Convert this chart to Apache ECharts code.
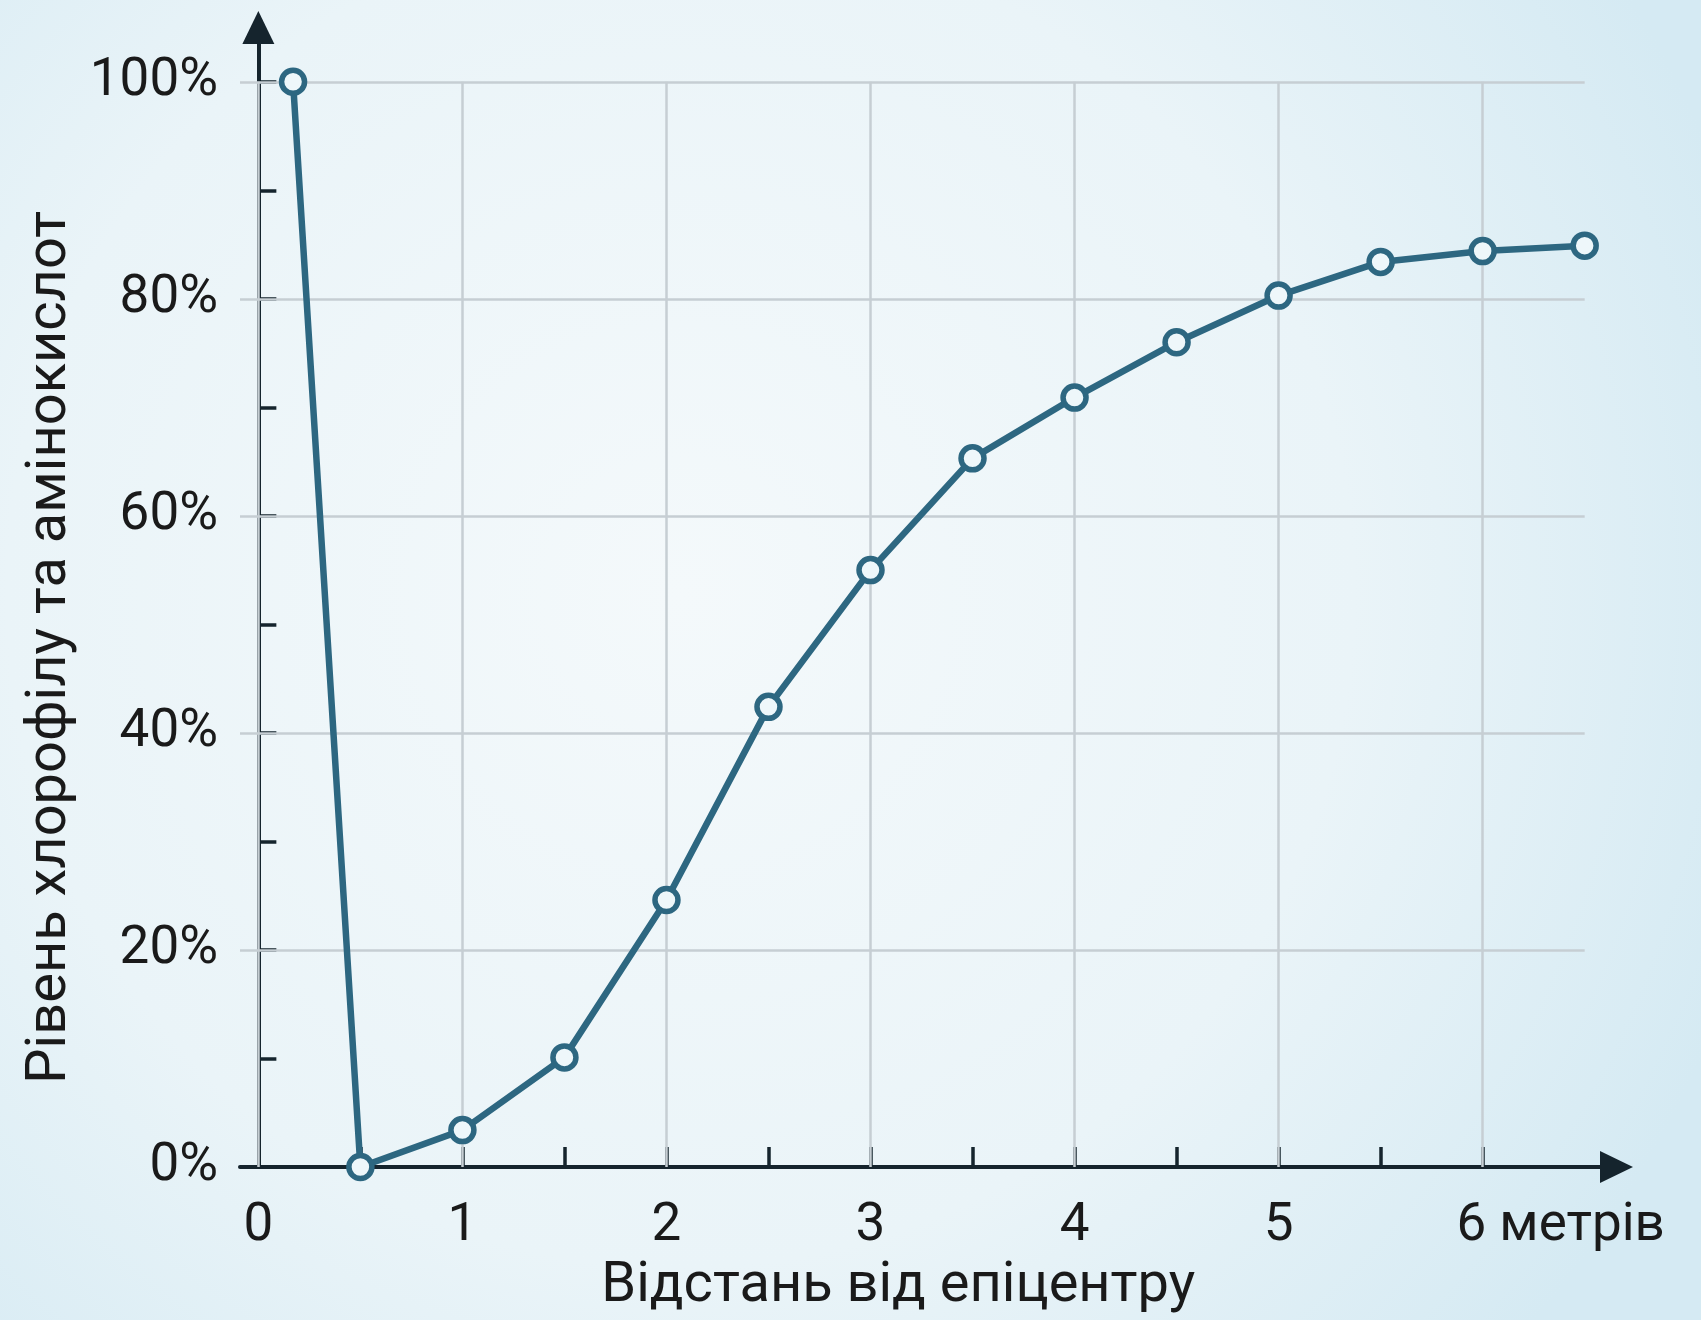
<!DOCTYPE html>
<html>
<head>
<meta charset="utf-8">
<script src="https://cdn.jsdelivr.net/npm/echarts@6/dist/echarts.min.js"></script>
<style>
html,body{margin:0;padding:0;}
#chart{width:1701px;height:1320px;}
</style>
</head>
<body>
<div id="chart"></div>
<script>
// Data
const distances = [0.17, 0.5, 1, 1.5, 2, 2.5, 3, 3.5, 4, 4.5, 5, 5.5, 6, 6.5];
const levels = [100, 0, 3.4, 10.1, 24.6, 42.4, 55.0, 65.3, 70.9, 76.0, 80.3, 83.4, 84.4, 84.9];
const xTickValues = [0, 0.5, 1, 1.5, 2, 2.5, 3, 3.5, 4, 4.5, 5, 5.5, 6];
const xLabelValues = [0, 1, 2, 3, 4, 5, 6];
const xLabelTexts = ['0', '1', '2', '3', '4', '5', '6 метрів'];
const yTickValues = [0, 10, 20, 30, 40, 50, 60, 70, 80, 90, 100];
const yLabelValues = [0, 20, 40, 60, 80, 100];
const xGridValues = [0, 1, 2, 3, 4, 5, 6];
const yGridValues = [20, 40, 60, 80, 100];
const xName = 'Відстань від епіцентру';
const yName = 'Рівень хлорофілу та амінокислот';

const X_MIN = -0.09, X_MAX = 6.656, GRID_X_END = 6.5;
const Y_MIN = 0, Y_MAX = 105, GRID_Y_END = 100;

const axisColor = '#15242d';
const gridColor = '#c6ced3';
const lineColor = '#2d6781';
const textColor = '#1a1a1a';
const font = 'Roboto, "Noto Sans", sans-serif';

const gridLines = [];
yGridValues.forEach(v => gridLines.push([{coord: [X_MIN, v]}, {coord: [GRID_X_END, v]}]));
xGridValues.forEach(v => gridLines.push([{coord: [v, Y_MIN]}, {coord: [v, GRID_Y_END]}]));

const chart = echarts.init(document.getElementById('chart'), null, {renderer: 'canvas'});
chart.setOption({
  backgroundColor: {
    type: 'radial', x: 0.4, y: 0.45, r: 0.85,
    colorStops: [{offset: 0, color: '#f4f9fb'}, {offset: 0.6, color: '#eaf4f8'}, {offset: 1, color: '#d5eaf3'}]
  },
  animation: false,
  grid: {left: 240, right: 84.5, top: 27.5, bottom: 153, containLabel: false},
  xAxis: {
    type: 'value', min: X_MIN, max: X_MAX,
    name: xName, nameLocation: 'middle', nameGap: 92,
    nameTextStyle: {fontFamily: font, fontSize: 56, color: textColor, padding: [0, 60, 0, 0]},
    axisLine: {show: true, symbol: ['none', 'triangle'], symbolSize: [32, 33], lineStyle: {color: axisColor, width: 4}},
    axisTick: {show: true, inside: true, length: 20, customValues: xTickValues, lineStyle: {color: axisColor, width: 3.5}},
    axisLabel: {
      show: true, margin: 33, customValues: xLabelValues,
      fontFamily: font, fontSize: 53, color: textColor,
      formatter: function (v) {
        const i = xLabelValues.indexOf(v);
        const t = i >= 0 ? xLabelTexts[i] : '';
        return i === xLabelValues.length - 1 ? '{last|' + t + '}' : t;
      },
      rich: {last: {fontFamily: font, fontSize: 53, color: textColor, padding: [0, 0, 0, 156]}}
    },
    splitLine: {show: false}
  },
  yAxis: {
    type: 'value', min: Y_MIN, max: Y_MAX,
    name: yName, nameLocation: 'middle', nameGap: 153, nameRotate: 90,
    nameTextStyle: {fontFamily: font, fontSize: 56, color: textColor, padding: [0, 100, 0, 0]},
    axisLine: {show: true, symbol: ['none', 'triangle'], symbolSize: [32, 33], lineStyle: {color: axisColor, width: 4}},
    axisTick: {show: true, inside: true, length: 18, customValues: yTickValues, lineStyle: {color: axisColor, width: 3.5}},
    axisLabel: {
      show: true, margin: 22, customValues: yLabelValues,
      fontFamily: font, fontSize: 53, color: textColor,
      formatter: v => v + '%'
    },
    splitLine: {show: false}
  },
  series: [
    {
      type: 'line', data: [], z: 1, silent: true,
      markLine: {
        silent: true, symbol: ['none', 'none'], label: {show: false},
        lineStyle: {color: gridColor, width: 2.5, type: 'solid'},
        emphasis: {disabled: true},
        data: gridLines
      }
    },
    {
      type: 'line', z: 5, clip: false,
      data: distances.map((d, i) => [d, levels[i]]),
      symbol: 'circle', symbolSize: 23, showSymbol: true,
      lineStyle: {color: lineColor, width: 6.5},
      itemStyle: {color: '#eef7fa', borderColor: lineColor, borderWidth: 5.5}
    }
  ]
});
</script>
</body>
</html>
